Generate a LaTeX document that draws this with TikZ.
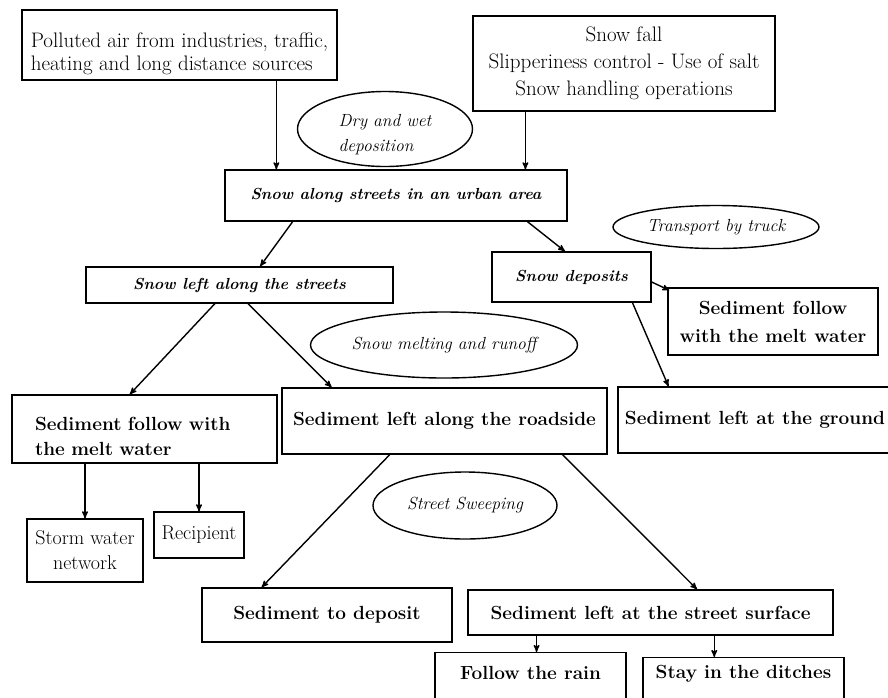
\documentclass[tikz,border=0pt]{standalone}
\usepackage{tikz}
\usetikzlibrary{arrows,calc,shapes.geometric}

\begin{document}
\begin{tikzpicture}[x=1pt,y=-1pt,->,>=stealth',line width=1.4pt,
                    font=\fontsize{21}{27}\selectfont]
  \tikzstyle{box}=[rectangle,draw,inner sep=0pt]
  \tikzstyle{sed}=[box,font=\bfseries\fontsize{19}{25}\selectfont]
  \tikzstyle{snow}=[box,font=\bfseries\itshape\fontsize{16}{20}\selectfont]
  \tikzstyle{bubble}=[ellipse,draw,inner sep=0pt,font=\itshape\fontsize{17.5}{25}\selectfont]

  \useasboundingbox (0,0) rectangle (888,697);
  \clip (0,0) rectangle (888,697);

  \node[box,minimum width=315,minimum height=70,align=left,font=\fontsize{21}{23}\selectfont] (air) at (179.5,45)
    {\rule{0pt}{33pt}Polluted air from industries, traffic,\\heating and long distance sources};
  \node[box,minimum width=302,minimum height=95,align=center] (fall) at (624,63.5)
    {Snow fall\\Slipperiness control - Use of salt\\Snow handling operations};
  \node[bubble,minimum width=175,minimum height=75,align=left] (dry) at (385,129)
    {\rule{0pt}{24pt}Dry and wet\\deposition};
  \node[snow,minimum width=342,minimum height=51] (urban) at (396,195.5)
    {Snow along streets in an urban area};
  \node[bubble,minimum width=206,minimum height=43] (truck) at (716,227) {Transport by truck};
  \node[snow,minimum width=307,minimum height=36] (streets) at (239.5,285) {Snow left along the streets};
  \node[snow,minimum width=159,minimum height=50] (deposits) at (571.5,277) {Snow deposits};
  \node[sed,minimum width=210,minimum height=67,align=center,font=\bfseries\fontsize{19}{28}\selectfont] (meltR) at (773,321.5)
    {Sediment follow\\with the melt water};
  \node[bubble,minimum width=267,minimum height=66] (runoff) at (444,345) {Snow melting and runoff};
  \node[sed,minimum width=265,minimum height=68,text width=219,align=left] (meltL) at (144.5,429)
    {\rule{0pt}{28pt}Sediment follow with\\the melt water};
  \node[sed,minimum width=325,minimum height=66] (roadside) at (444.5,421) {Sediment left along the roadside};
  \node[sed,minimum width=274,minimum height=66] (ground) at (755,420) {Sediment left at the ground};
  \node[box,minimum width=116,minimum height=63,align=center,font=\fontsize{20}{25}\selectfont] (storm) at (85,550.5) {Storm water\\network};
  \node[box,minimum width=90,minimum height=46,font=\fontsize{20}{25}\selectfont] (recip) at (199,535) {Recipient};
  \node[bubble,minimum width=184,minimum height=67] (sweep) at (465,505.5) {Street Sweeping};
  \node[sed,minimum width=250,minimum height=54] (todep) at (327,615) {Sediment to deposit};
  \node[sed,minimum width=365,minimum height=45] (surface) at (650.5,612.5) {Sediment left at the street surface};
  \node[sed,anchor=north,minimum width=191,text height=27,text depth=40] (rain) at (530.5,652) {Follow the rain};
  \node[sed,anchor=north,minimum width=201,text height=21,text depth=40] (stay) at (743.5,657) {Stay in the ditches};

  \draw ($(air.south west)!.806!(air.south east)$) coordinate (a1) -- (a1 |- urban.north);
  \draw ($(fall.south west)!.175!(fall.south east)$) coordinate (a2) -- (a2 |- urban.north);
  \draw ($(urban.south west)!.199!(urban.south east)$) -- ($(streets.north west)!.567!(streets.north east)$);
  \draw ($(urban.south west)!.883!(urban.south east)$) -- ($(deposits.north west)!.459!(deposits.north east)$);
  \draw ($(deposits.east)+(0,5)$) -- ($(meltR.north west)+(2,3)$);
  \draw ($(deposits.south west)!.88!(deposits.south east)$) -- ($(ground.north west)!.186!(ground.north east)$);
  \draw ($(streets.south west)!.42!(streets.south east)$) -- ($(meltL.north west)!.445!(meltL.north east)$);
  \draw ($(streets.south west)!.528!(streets.south east)$) -- ($(roadside.north west)!.154!(roadside.north east)$);
  \draw (storm.north |- meltL.south) -- (storm.north);
  \draw (recip.north |- meltL.south) -- (recip.north);
  \draw ($(roadside.south west)!.332!(roadside.south east)$) -- ($(todep.north west)!.24!(todep.north east)$);
  \draw ($(roadside.south west)!.862!(roadside.south east)$) -- ($(surface.north west)!.627!(surface.north east)$);
  \draw ($(surface.south west)!.189!(surface.south east)$) coordinate (a3) -- (a3 |- rain.north);
  \draw ($(surface.south west)!.674!(surface.south east)$) coordinate (a4) -- (a4 |- stay.north);

\end{tikzpicture}
\end{document}
